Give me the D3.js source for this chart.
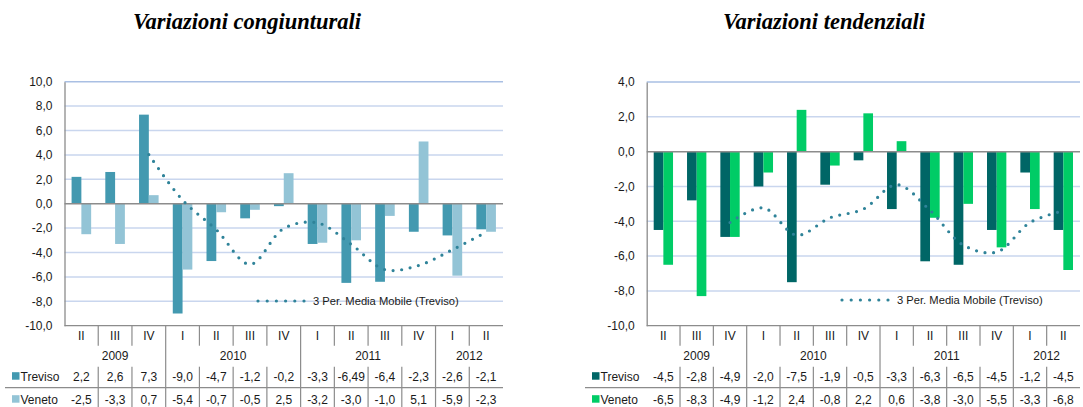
<!DOCTYPE html>
<html>
<head>
<meta charset="utf-8">
<script src="https://cdn.jsdelivr.net/npm/d3@7"></script>
<style>
  body { margin: 0; background: #fff; }
  svg { display: block; }
  text { font-family: "Liberation Sans", Arial, sans-serif; fill: #1a1a1a; }
  .title { font-family: "Liberation Serif", "Times New Roman", serif; font-weight: bold; font-style: italic; font-size: 22.5px; fill: #000; }
</style>
</head>
<body>
<svg id="chart" width="1083" height="407"></svg>
<script>
// quarters and year groups shared by both panels
const quarters = ["II", "III", "IV", "I", "II", "III", "IV", "I", "II", "III", "IV", "I", "II"];
const years = ["2009", "2010", "2011", "2012"];
const yearSpans = [3, 4, 4, 2];

// Variazioni congiunturali
const congTreviso = [2.2, 2.6, 7.3, -9.0, -4.7, -1.2, -0.2, -3.3, -6.49, -6.4, -2.3, -2.6, -2.1];
const congVeneto = [-2.5, -3.3, 0.7, -5.4, -0.7, -0.5, 2.5, -3.2, -3.0, -1.0, 5.1, -5.9, -2.3];
const congMovAvg = [null, null, 4.03, 0.3, -2.13, -4.97, -2.03, -1.57, -3.33, -5.4, -5.06, -3.77, -2.33];
const congTicks = [10, 8, 6, 4, 2, 0, -2, -4, -6, -8, -10];

// Variazioni tendenziali
const tendTreviso = [-4.5, -2.8, -4.9, -2.0, -7.5, -1.9, -0.5, -3.3, -6.3, -6.5, -4.5, -1.2, -4.5];
const tendVeneto = [-6.5, -8.3, -4.9, -1.2, 2.4, -0.8, 2.2, 0.6, -3.8, -3.0, -5.5, -3.3, -6.8];
const tendMovAvg = [null, null, -4.07, -3.23, -4.8, -3.8, -3.3, -1.9, -3.37, -5.37, -5.77, -4.07, -3.4];
const tendTicks = [4, 2, 0, -2, -4, -6, -8, -10];

const seriesNames = ["Treviso", "Veneto"];
const legendText = "3 Per. Media Mobile (Treviso)";

const svg = d3.select("#chart");
const fmt = v => {
  const dec = Math.round(v * 10) === v * 10 ? 1 : 2;
  return v.toFixed(dec).replace(".", ",");
};

function drawPanel(cfg) {
  const g = svg.append("g");
  const x = d3.scaleBand().domain(d3.range(quarters.length))
    .range([cfg.left, cfg.right]).paddingInner(0.42).paddingOuter(0.21);
  const xs = d3.scaleBand().domain([0, 1]).range([0, x.bandwidth()]);
  const y = d3.scaleLinear().domain(cfg.domain).range([cfg.bottom, cfg.top]);
  const step = x.step();

  g.append("text").attr("class", "title")
    .attr("x", cfg.titleX).attr("y", 29).attr("text-anchor", "middle")
    .text(cfg.title);

  // gridlines
  g.append("g").selectAll("line").data(cfg.ticks.filter(t => t !== 0 && t !== cfg.domain[0]))
    .join("line")
    .attr("x1", cfg.left).attr("x2", cfg.right)
    .attr("y1", d => y(d)).attr("y2", d => y(d))
    .attr("stroke", d => d === cfg.domain[1] ? "#a9bfe3" : "#c9d6ee")
    .attr("stroke-width", 1.5);

  // y axis
  const yAxis = d3.axisLeft(y).tickValues(cfg.ticks).tickSize(0).tickPadding(12)
    .tickFormat(d => d.toFixed(1).replace(".", ","));
  const ya = g.append("g").attr("transform", `translate(${cfg.left},0)`).call(yAxis);
  ya.select(".domain").attr("stroke", "#8c8c8c").attr("stroke-width", 1.3);
  ya.selectAll("text").attr("font-size", 12).attr("fill", "#1a1a1a")
    .attr("font-family", "Liberation Sans, Arial, sans-serif");

  // bars
  const data = [cfg.a, cfg.b];
  data.forEach((vals, si) => {
    g.append("g").selectAll("rect").data(vals).join("rect")
      .attr("x", (d, i) => x(i) + xs(si))
      .attr("width", xs.bandwidth())
      .attr("y", d => y(Math.max(0, d)))
      .attr("height", d => Math.abs(y(d) - y(0)))
      .attr("fill", cfg.colors[si]);
  });

  // zero line and bottom border
  g.append("line").attr("x1", cfg.left).attr("x2", cfg.right)
    .attr("y1", y(0)).attr("y2", y(0)).attr("stroke", "#8c8c8c").attr("stroke-width", 1.5);
  g.append("line").attr("x1", cfg.left).attr("x2", cfg.right)
    .attr("y1", y(cfg.domain[0])).attr("y2", y(cfg.domain[0]))
    .attr("stroke", "#8c8c8c").attr("stroke-width", 1.3);

  // moving average (smoothed dotted line)
  const line = d3.line()
    .defined(d => d != null)
    .x((d, i) => x(i) + x.bandwidth() / 2)
    .y(d => y(d))
    .curve(d3.curveCatmullRom.alpha(0.5));
  g.append("path").datum(cfg.ma).attr("d", line)
    .attr("fill", "none").attr("stroke", "#2f8399").attr("stroke-width", 3.2)
    .attr("stroke-linecap", "round").attr("stroke-dasharray", "0 8.6");

  // legend for moving average
  g.append("line").attr("x1", cfg.legendX).attr("x2", cfg.legendX + 47)
    .attr("y1", cfg.legendY).attr("y2", cfg.legendY)
    .attr("stroke", "#2f8399").attr("stroke-width", 3.2)
    .attr("stroke-linecap", "round").attr("stroke-dasharray", "0 9.2");
  g.append("text").attr("x", cfg.legendX + 55).attr("y", cfg.legendY + 4)
    .attr("font-size", 11.2).text(legendText);

  // data table
  const bottom = y(cfg.domain[0]);
  const tbl = g.append("g").attr("font-size", 12).attr("text-anchor", "middle");
  const ends = d3.cumsum(yearSpans);
  const groupStarts = new Set([0, ...ends.slice(0, -1)]);
  // quarter separators
  d3.range(1, quarters.length).forEach(i => {
    const xx = cfg.left + i * step;
    const isGroup = groupStarts.has(i);
    tbl.append("line").attr("x1", xx).attr("x2", xx)
      .attr("y1", bottom).attr("y2", isGroup ? 407 : bottom + 20)
      .attr("stroke", "#8c8c8c").attr("stroke-width", 1.2);
    if (!isGroup) {
      tbl.append("line").attr("x1", xx).attr("x2", xx)
        .attr("y1", bottom + 41).attr("y2", 407)
        .attr("stroke", "#8c8c8c").attr("stroke-width", 1.2);
    }
  });
  tbl.selectAll(".q").data(quarters).join("text")
    .attr("x", (d, i) => x(i) + x.bandwidth() / 2).attr("y", bottom + 14.5).text(d => d);
  tbl.selectAll(".yr").data(years).join("text")
    .attr("x", (d, i) => cfg.left + ((ends[i] - yearSpans[i]) + yearSpans[i] / 2) * step)
    .attr("y", bottom + 34.5).text(d => d);
  // row divider
  tbl.append("line").attr("x1", cfg.keyX - 7).attr("x2", cfg.right)
    .attr("y1", bottom + 62).attr("y2", bottom + 62)
    .attr("stroke", "#8c8c8c").attr("stroke-width", 1.2);
  const rowY = [bottom + 55.5, bottom + 78.5];
  data.forEach((vals, si) => {
    tbl.append("rect").attr("x", cfg.keyX).attr("y", rowY[si] - 9)
      .attr("width", 7.5).attr("height", 7.5).attr("fill", cfg.colors[si]);
    tbl.append("text").attr("x", cfg.keyX + 8.5).attr("y", rowY[si])
      .attr("text-anchor", "start").text(seriesNames[si]);
    tbl.append("g").selectAll("text").data(vals).join("text")
      .attr("x", (d, i) => x(i) + x.bandwidth() / 2).attr("y", rowY[si])
      .text(d => fmt(d));
  });
}

drawPanel({
  title: "Variazioni congiunturali", titleX: 247,
  left: 64.5, right: 503, top: 81.7, bottom: 325.7,
  domain: [-10, 10], ticks: congTicks,
  a: congTreviso, b: congVeneto, ma: congMovAvg,
  colors: ["#4399b0", "#93c4d6"],
  legendX: 258, legendY: 301, keyX: 12
});

drawPanel({
  title: "Variazioni tendenziali", titleX: 824,
  left: 646.7, right: 1080, top: 82, bottom: 325.7,
  domain: [-10, 4], ticks: tendTicks,
  a: tendTreviso, b: tendVeneto, ma: tendMovAvg,
  colors: ["#006666", "#00cc66"],
  legendX: 842, legendY: 300, keyX: 592
});
</script>
</body>
</html>
